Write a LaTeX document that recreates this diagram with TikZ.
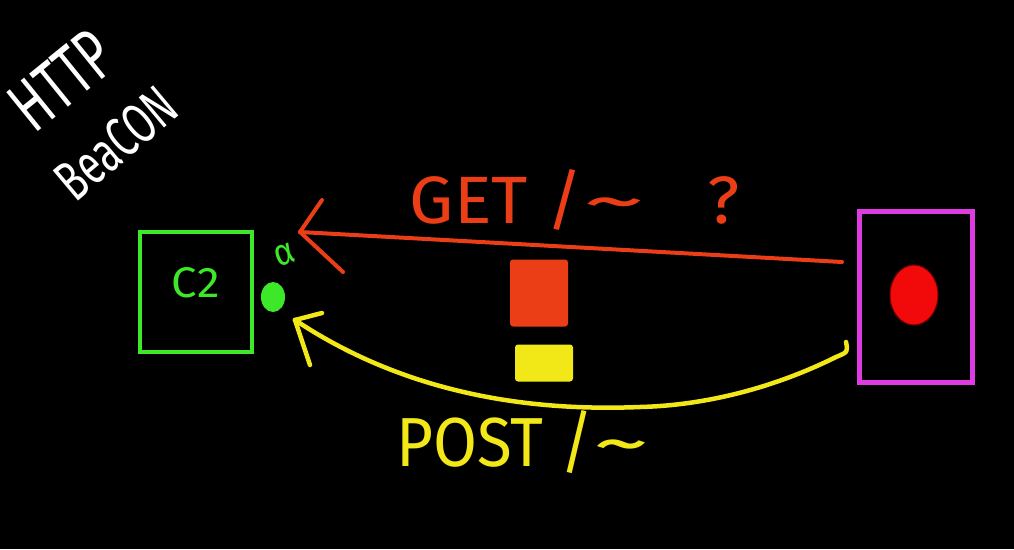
\documentclass[tikz,border=0pt]{standalone}
\usepackage{fontspec}
\setmainfont{Fira Sans}
\usetikzlibrary{shapes.geometric}
\definecolor{c2green}{RGB}{60,232,40}
\definecolor{getred}{RGB}{236,62,22}
\definecolor{postyellow}{RGB}{242,232,24}
\definecolor{vicmag}{RGB}{222,60,226}
\definecolor{dotred}{RGB}{242,10,10}
\newcommand{\bigtilde}{\scalebox{1.8}[1]{\textasciitilde}}
\begin{document}
\begin{tikzpicture}[x=1pt,y=-1pt,
  handtext/.style={inner sep=0pt, outer sep=0pt},
  stroke/.style={line width=4pt, line cap=round, line join=round},
  packet/.style={inner sep=0pt, rounded corners=3pt}]
\fill[black] (0,0) rectangle (1014,549);
\useasboundingbox (0,0) rectangle (1014,549);

% title
\node[handtext, text=white, rotate=39] (http) at (62,80) {\resizebox{110pt}{50pt}{HTTP}};
\node[handtext, text=white, rotate=40] (beacon) at (116,143) {\resizebox{140pt}{40pt}{BeaCON}};

% C2 server
\node[draw=c2green, line width=4pt, minimum width=112pt, minimum height=120pt, inner sep=0pt] (c2) at (196,292) {};
\node[handtext, text=c2green] (c2label) at (196,283) {\resizebox{48pt}{30pt}{C2}};
\node[handtext, text=c2green, rotate=20] (alpha) at (285,255) {\resizebox{20pt}{20pt}{α}};
\node[ellipse, fill=c2green, minimum width=24pt, minimum height=30pt, inner sep=0pt] (beacondot) at (273,297) {};

% victim
\node[draw=vicmag, line width=5pt, minimum width=113pt, minimum height=171pt, inner sep=0pt] (victim) at (916,297) {};
\node[ellipse, fill=dotred, draw=black!55!red, line width=1pt, minimum width=48pt, minimum height=60pt, inner sep=0pt] (implant) at (914,295) {};

% GET request
\coordinate (getStart) at (842,262);
\coordinate (getTip) at (300,232);
\draw[stroke, getred] (getStart) -- (getTip);
\draw[stroke, getred] (getTip) -- ++(22,-32);
\draw[stroke, getred] (getTip) -- ++(43,40);
\node[handtext, text=getred] (getlabel) at (575,200) {\resizebox{330pt}{54pt}{GET /\bigtilde\hspace{0.9em}?}};
\node[packet, fill=getred, minimum width=58pt, minimum height=67pt] (getpkt) at (539,293) {};

% POST response
\node[packet, fill=postyellow, minimum width=58pt, minimum height=37pt] (postpkt) at (544,363) {};
\coordinate (postStart) at (846,342);
\coordinate (postTip) at (295,320);
\draw[stroke, postyellow, line width=4.5pt] (postStart) .. controls (848,352) .. (836,357)
  .. controls (790,380) and (720,405) .. (640,407)
  .. controls (520,412) and (400,390) .. (postTip);
\draw[stroke, postyellow, line width=4.5pt] (postTip) -- ++(27,-7);
\draw[stroke, postyellow, line width=4.5pt] (postTip) -- ++(15,45);
\node[handtext, text=postyellow] (postlabel) at (523,442) {\resizebox{253pt}{56pt}{POST /\bigtilde}};
\end{tikzpicture}
\end{document}
